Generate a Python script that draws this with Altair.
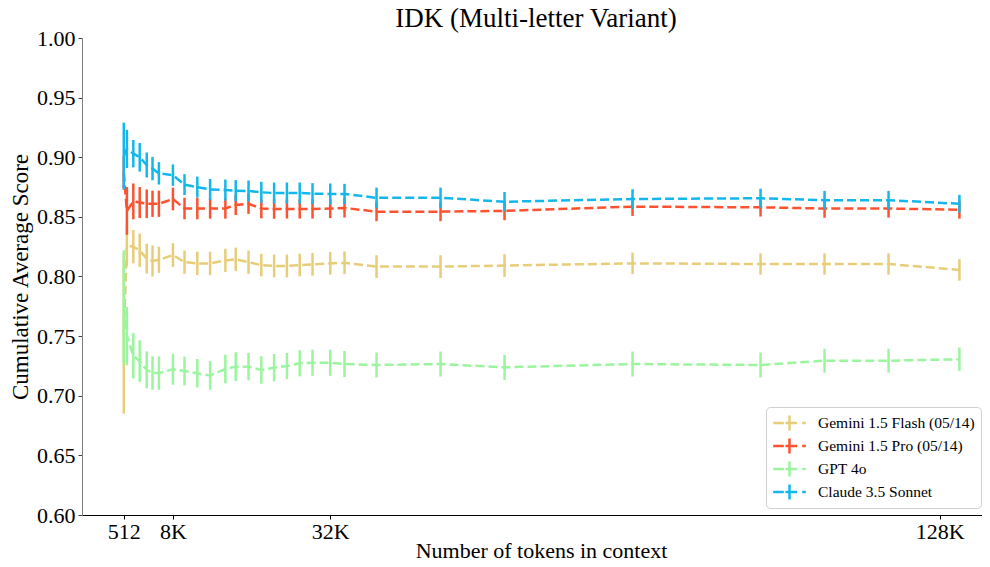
import altair as alt
import pandas as pd

# ---- data ----
tokens = [512, 1000, 2000, 3000, 4096, 5000, 6000, 8192, 10000, 12000, 14000, 16384,
          18000, 20000, 22000, 24000, 26000, 28000, 30000, 32768, 35000, 40000, 50000,
          60000, 80000, 100000, 110000, 120000, 131072]

models = ["Gemini 1.5 Flash (05/14)", "Gemini 1.5 Pro (05/14)", "GPT 4o", "Claude 3.5 Sonnet"]
colors = ["#E8CD78", "#FD5230", "#9BF59F", "#13B7EB"]

flash_mean = [0.752, 0.826, 0.825, 0.822, 0.815, 0.813, 0.814, 0.818, 0.812, 0.811, 0.811, 0.8135,
              0.8144, 0.812, 0.8096, 0.8088, 0.8088, 0.8096, 0.8102, 0.811, 0.8115, 0.8083, 0.8083,
              0.8092, 0.811, 0.8105, 0.8105, 0.8105, 0.8055]
flash_err = [0.067, 0.017, 0.014, 0.014, 0.0125, 0.013, 0.011, 0.010, 0.0098, 0.0098, 0.0098, 0.0098,
             0.0098, 0.0098, 0.0095, 0.0095, 0.0095, 0.0095, 0.0095, 0.0095, 0.0095, 0.0095, 0.0095,
             0.0095, 0.009, 0.009, 0.009, 0.009, 0.009]

pro_mean = [0.887, 0.855, 0.863, 0.862, 0.861, 0.861, 0.861, 0.865, 0.857, 0.857, 0.857, 0.857,
            0.860, 0.861, 0.857, 0.8566, 0.8566, 0.8566, 0.8566, 0.857, 0.8575, 0.8544, 0.8544,
            0.855, 0.8586, 0.858, 0.857, 0.857, 0.856]
pro_err = [0.014, 0.020, 0.015, 0.013, 0.012, 0.011, 0.011, 0.0095, 0.009, 0.009, 0.0085, 0.0085,
           0.0085, 0.0085, 0.0082, 0.0082, 0.008, 0.008, 0.008, 0.008, 0.008, 0.008, 0.008,
           0.0078, 0.0078, 0.0077, 0.0077, 0.0076, 0.0075]

gpt_mean = [0.7745, 0.750, 0.7335, 0.729, 0.7217, 0.719, 0.719, 0.7222, 0.7208, 0.7188, 0.717, 0.7224,
            0.7244, 0.7244, 0.7216, 0.7235, 0.7249, 0.7272, 0.7277, 0.7277, 0.7266, 0.7258, 0.7266,
            0.7238, 0.7266, 0.7258, 0.7294, 0.7294, 0.7306]
gpt_err = [0.0475, 0.0245, 0.019, 0.0175, 0.0155, 0.014, 0.014, 0.013, 0.012, 0.012, 0.012, 0.012,
           0.012, 0.0115, 0.0115, 0.0115, 0.011, 0.011, 0.011, 0.011, 0.011, 0.0105, 0.0105,
           0.0105, 0.0105, 0.0105, 0.010, 0.010, 0.0098]

claude_mean = [0.901, 0.907, 0.903, 0.900, 0.8935, 0.8905, 0.8865, 0.885, 0.877, 0.875, 0.873, 0.8725,
               0.872, 0.8717, 0.8706, 0.870, 0.870, 0.870, 0.8695, 0.8692, 0.8692, 0.866, 0.866,
               0.8627, 0.865, 0.8656, 0.864, 0.864, 0.861]
claude_err = [0.028, 0.016, 0.0115, 0.012, 0.0105, 0.0098, 0.0094, 0.009, 0.0088, 0.0088, 0.0088, 0.0088,
              0.0088, 0.0088, 0.0088, 0.0088, 0.0088, 0.0088, 0.0088, 0.0088, 0.0085, 0.0085, 0.0085,
              0.0082, 0.0082, 0.008, 0.0078, 0.0078, 0.0075]

xtick_values = [512, 8192, 32768, 128000]
xtick_labels = ["512", "8K", "32K", "128K"]
ytick_values = [0.60, 0.65, 0.70, 0.75, 0.80, 0.85, 0.90, 0.95, 1.00]

series = {
    models[0]: (flash_mean, flash_err),
    models[1]: (pro_mean, pro_err),
    models[2]: (gpt_mean, gpt_err),
    models[3]: (claude_mean, claude_err),
}

FONT = "Liberation Serif"

label_expr = " : ".join(
    f"datum.value == {v} ? '{l}'" for v, l in zip(xtick_values[:-1], xtick_labels[:-1])
) + f" : '{xtick_labels[-1]}'"

x_scale = alt.Scale(domain=[-6016, 134600], nice=False, zero=False)
y_scale = alt.Scale(domain=[0.6, 1.0], nice=False, zero=False)
color_scale = alt.Scale(domain=models, range=colors)

x_axis = alt.Axis(values=xtick_values, labelExpr=label_expr, title="Number of tokens in context",
                  grid=False, labelFont=FONT, labelFontSize=22, titleFont=FONT, titleFontSize=22,
                  titleFontWeight="normal", labelColor="black", titleColor="black",
                  domainColor="black", tickColor="black", tickSize=4, labelPadding=2,
                  titleX=459, titleY=42, titleAlign="center", titleBaseline="alphabetic")
y_axis = alt.Axis(values=ytick_values, format=".2f", title="Cumulative Average Score", grid=False,
                  labelFont=FONT, labelFontSize=22, titleFont=FONT, titleFontSize=23,
                  titleFontWeight="normal", labelColor="black", titleColor="black",
                  domainColor="#808080", tickColor="#404040", tickSize=4, labelPadding=3, titlePadding=4)

legend = alt.Legend(
    title=None, orient="none", legendX=684, legendY=369,
    symbolType="M-1.81,0H-0.63M-0.45,0H0.85M1.41,0H1.81M0,-0.83V0.83",
    symbolSize=324, symbolStrokeWidth=2.5, symbolFillColor="transparent", symbolOffset=7,
    labelFont=FONT, labelFontSize=15.5, labelColor="black", labelOffset=18, labelLimit=400,
    padding=6, strokeColor="#d0d0d0", cornerRadius=4, fillColor="white", rowPadding=3,
    clipHeight=20,
)

layers = []
for i, m in enumerate(models):
    mean, err = series[m]
    df = pd.DataFrame({
        "tokens": tokens,
        "score": mean,
        "lo": [a - e for a, e in zip(mean, err)],
        "hi": [a + e for a, e in zip(mean, err)],
        "model": m,
    })
    base = alt.Chart(df)
    rules = base.mark_rule(strokeWidth=2.5).encode(
        x=alt.X("tokens:Q", scale=x_scale, axis=x_axis),
        y=alt.Y("lo:Q", scale=y_scale, axis=y_axis),
        y2="hi:Q",
        color=alt.Color("model:N", scale=color_scale, legend=legend),
    )
    line = base.mark_line(strokeWidth=2.5, strokeDash=[9, 4]).encode(
        x=alt.X("tokens:Q", scale=x_scale, axis=x_axis),
        y=alt.Y("score:Q", scale=y_scale, axis=y_axis),
        color=alt.Color("model:N", scale=color_scale, legend=legend),
    )
    layers += [line, rules]

chart = alt.layer(*layers).properties(
    width=900, height=477,
    title=alt.TitleParams("IDK (Multi-letter Variant)", font=FONT, fontSize=27,
                          fontWeight="normal", color="black", anchor="middle", offset=6, dy=12, dx=4),
    autosize=alt.AutoSizeParams(type="none"),
    padding={"left": 74, "top": 30, "right": 0, "bottom": 44},
).configure_view(stroke=None)

chart.save("out.html", embed_options={"renderer": "svg", "actions": False})
